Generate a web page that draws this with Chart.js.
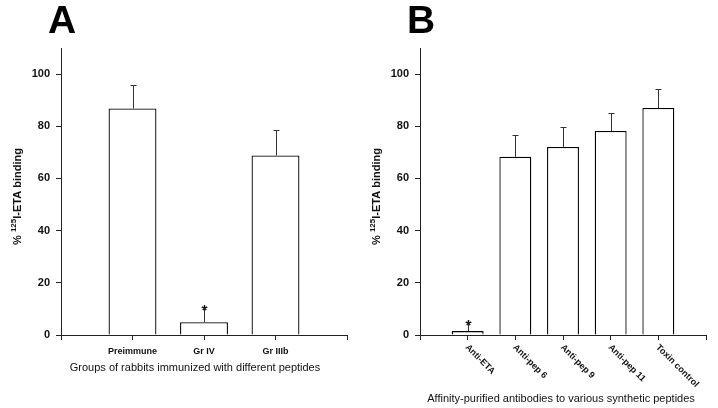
<!DOCTYPE html>
<html>
<head>
<meta charset="utf-8">
<script src="https://cdn.jsdelivr.net/npm/chart.js@4.4.0/dist/chart.umd.min.js"></script>
<style>
body{margin:0;background:#fff;}
#wrap{position:relative;width:718px;height:408px;}
canvas{position:absolute;top:0;}
</style>
</head>
<body>
<div id="wrap">
<canvas id="chartA" width="359" height="408" style="left:0"></canvas>
<canvas id="chartB" width="359" height="408" style="left:359px"></canvas>
</div>
<script>
Chart.defaults.font.family = "'Liberation Sans', Arial, sans-serif";
Chart.defaults.color = "#111";

// panel A
const groupsA = ['Preimmune', 'Gr IV', 'Gr IIIb'];
const bindingA = [86.8, 4.9, 68.8];
const sdA = [8.9, 6.0, 9.6];
const starA = [false, true, false];

// panel B
const antibodiesB = ['Anti-ETA', 'Anti-pep 6', 'Anti-pep 9', 'Anti-pep 11', 'Toxin control'];
const bindingB = [1.5, 68.3, 72.1, 78.2, 87.0];
const sdB = [3.4, 8.2, 7.5, 6.7, 7.1];
const starB = [true, false, false, false, false];

const yTicks = [0, 20, 40, 60, 80, 100];
const lineColor = '#222';

const extras = {
  id: 'extras',
  afterDraw(chart, args, opts) {
    const ctx = chart.ctx, xs = chart.scales.x, ys = chart.scales.y, area = chart.chartArea;
    ctx.save();
    ctx.strokeStyle = '#333';
    ctx.fillStyle = '#111';
    ctx.lineWidth = 1;

    // error bars (upper only) + stars
    opts.values.forEach((v, i) => {
      const x = Math.round(xs.getPixelForValue(i + 1)) + 0.5;
      const y0 = ys.getPixelForValue(v);
      const y1 = Math.round(ys.getPixelForValue(v + opts.sd[i])) + 0.5;
      ctx.beginPath();
      ctx.moveTo(x, y0); ctx.lineTo(x, y1);
      ctx.moveTo(x - 3, y1); ctx.lineTo(x + 3, y1);
      ctx.stroke();
      if (opts.stars[i]) {
        ctx.font = "bold 14px 'Liberation Sans', Arial";
        ctx.textAlign = 'center';
        ctx.textBaseline = 'alphabetic';
        ctx.fillText('*', x, y1 + 7);
      }
    });

    // rotated category labels
    if (opts.rotated) {
      ctx.font = "bold 9px 'Liberation Sans', Arial";
      ctx.textAlign = 'left';
      ctx.textBaseline = 'middle';
      opts.cats.forEach((c, i) => {
        const x = xs.getPixelForValue(i + 1);
        ctx.save();
        ctx.translate(x - 1, area.bottom + 11);
        ctx.rotate(Math.PI / 4);
        ctx.fillText(c, 0, 0);
        ctx.restore();
      });
    }

    // panel letter
    ctx.font = "900 39px 'Liberation Sans', Arial";
    ctx.textAlign = 'left';
    ctx.textBaseline = 'alphabetic';
    ctx.fillStyle = '#000';
    ctx.fillText(opts.letter, area.left - 13, 33);
    ctx.fillStyle = '#111';

    // x title
    ctx.font = "11px 'Liberation Sans', Arial";
    ctx.textAlign = 'center';
    ctx.textBaseline = 'middle';
    ctx.fillText(opts.xTitle, (area.left + area.right) / 2 + opts.xShift, opts.xTitleY);

    // y title with superscript
    ctx.save();
    ctx.translate(17, (area.top + area.bottom) / 2 + 5);
    ctx.rotate(-Math.PI / 2);
    const big = "bold 11px 'Liberation Sans', Arial", small = "bold 8px 'Liberation Sans', Arial";
    ctx.font = big; const w1 = ctx.measureText('% ').width, w3 = ctx.measureText('I-ETA binding').width;
    ctx.font = small; const w2 = ctx.measureText('125').width;
    let px = -(w1 + w2 + w3) / 2;
    ctx.textAlign = 'left';
    ctx.textBaseline = 'alphabetic';
    ctx.font = big; ctx.fillText('% ', px, 4); px += w1;
    ctx.font = small; ctx.fillText('125', px, -1); px += w2;
    ctx.font = big; ctx.fillText('I-ETA binding', px, 4);
    ctx.restore();

    ctx.restore();
  }
};

function makeConfig(cats, vals, sds, stars, letter, xTitle, rotated, xTitleY, xShift) {
  return {
    type: 'bar',
    data: {
      labels: ['', ...cats, ''],
      datasets: [{
        data: [null, ...vals, null],
        backgroundColor: '#fff',
        borderColor: '#000',
        borderWidth: 1.3,
        borderSkipped: 'start',
        categoryPercentage: 1,
        barPercentage: 0.67,
      }]
    },
    options: {
      responsive: false,
      animation: false,
      layout: { padding: { top: 48, right: 12, left: 0, bottom: 0 } },
      plugins: {
        legend: { display: false },
        tooltip: { enabled: false },
        extras: { values: vals, sd: sds, stars: stars, cats: cats, letter: letter,
                  xTitle: xTitle, rotated: rotated, xTitleY: xTitleY, xShift: xShift },
      },
      scales: {
        x: {
          type: 'category',
          offset: false,
          grid: { offset: false, drawOnChartArea: false, tickLength: 5, color: lineColor },
          border: { color: lineColor, width: 1 },
          ticks: {
            display: !rotated,
            autoSkip: false,
            maxRotation: 0,
            padding: 6,
            font: { size: 9, weight: 'bold' },
          },
          afterFit: s => { s.height = 73; },
        },
        y: {
          min: 0,
          max: 110,
          afterBuildTicks: s => { s.ticks = yTicks.map(v => ({ value: v })); },
          grid: { drawOnChartArea: false, tickLength: 5, color: lineColor },
          border: { color: lineColor, width: 1 },
          ticks: { padding: 6, font: { size: 11, weight: 'bold' } },
          afterFit: s => { s.width = 61; },
        }
      }
    },
    plugins: [extras]
  };
}

const chartA = new Chart(
  document.getElementById('chartA'),
  makeConfig(groupsA, bindingA, sdA, starA, 'A', 'Groups of rabbits immunized with different peptides', false, 368, -9)
);

const chartB = new Chart(
  document.getElementById('chartB'),
  makeConfig(antibodiesB, bindingB, sdB, starB, 'B', 'Affinity-purified antibodies to various synthetic peptides', true, 399, -2)
);
</script>
</body>
</html>
